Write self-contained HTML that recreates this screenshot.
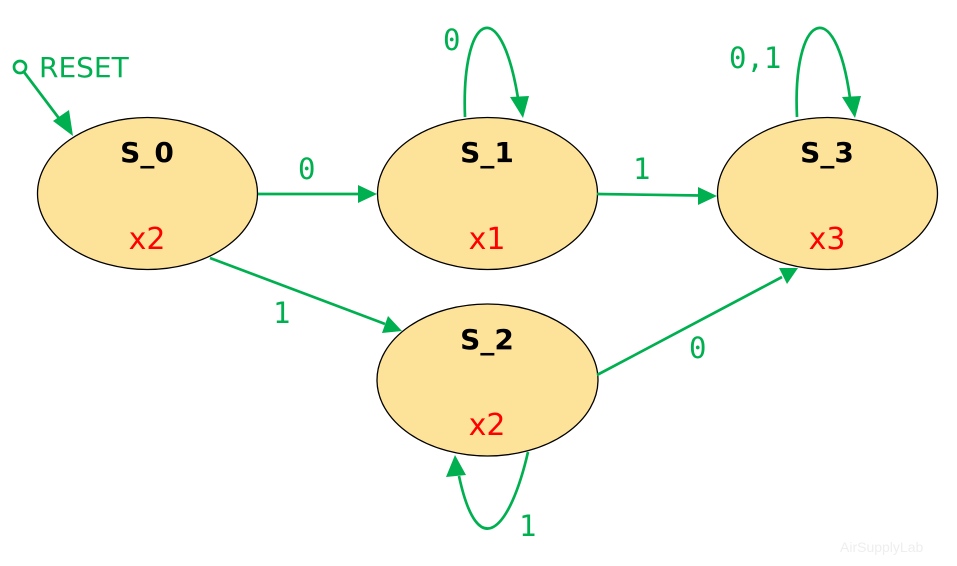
<!DOCTYPE html>
<html><head><style>html,body{margin:0;padding:0;background:#fff;}svg{display:block}</style></head>
<body>
<svg width="957" height="566" viewBox="0 0 957 566" xmlns="http://www.w3.org/2000/svg">
<g fill="#FDE39A" stroke="#000" stroke-width="1.3">
<ellipse cx="147.5" cy="193.5" rx="110" ry="76"/>
<ellipse cx="487.5" cy="193.5" rx="110" ry="76"/>
<ellipse cx="827.5" cy="193.5" rx="110" ry="76"/>
<ellipse cx="487.5" cy="380" rx="110.5" ry="76"/>
</g>
<g font-family="'DejaVu Sans','Liberation Sans',sans-serif" font-weight="bold" font-size="28" text-anchor="middle" fill="#000">
<text x="147" y="162">S_0</text>
<text x="487" y="162">S_1</text>
<text x="827" y="162">S_3</text>
<text x="487" y="349">S_2</text>
</g>
<g font-family="'DejaVu Sans','Liberation Sans',sans-serif" font-size="30" text-anchor="middle" fill="#FF0000">
<text x="147" y="249">x2</text>
<text x="487" y="249">x1</text>
<text x="827" y="249">x3</text>
<text x="487" y="435">x2</text>
</g>
<g stroke="#00B050" stroke-width="2.7" fill="none">
<circle cx="20" cy="67" r="6"/>
<line x1="24" y1="72" x2="64" y2="125"/>
<line x1="258" y1="194" x2="360" y2="194"/>
<line x1="597" y1="194" x2="700" y2="195.5"/>
<line x1="210" y1="258" x2="385" y2="324"/>
<line x1="597" y1="375" x2="782" y2="277"/>
<path d="M465,117 C461,15 500,-10 518,98"/>
<path d="M797,117 C792,15 835,-10 850,98"/>
<path d="M528,452 C510,530 478,565 459,476"/>
</g>
<g fill="#00B050">
<polygon points="73,136 53,121 69,110"/>
<polygon points="377,194 358,185 358,203"/>
<polygon points="717,196 698,187 698,205"/>
<polygon points="402,331 382,333 388,316"/>
<polygon points="798,268 787,284 779,268"/>
<polygon points="523,118 510,97 529,96"/>
<polygon points="855,118 842,97 861,96"/>
<polygon points="455,455 446,477 466,475"/>
</g>
<g font-family="'DejaVu Sans Mono','Liberation Mono',monospace" font-size="29" fill="#00B050">
<text x="298" y="179">0</text>
<text x="633" y="179">1</text>
<text x="273" y="323">1</text>
<text x="689" y="358">0</text>
<text x="443" y="50">0</text>
<text x="729" y="68">0,1</text>
<text x="519" y="536">1</text>
</g>
<text x="39" y="77" font-family="'DejaVu Sans','Liberation Sans',sans-serif" font-size="28" fill="#00B050">RESET</text>
<text x="840" y="552" font-family="'Liberation Sans',sans-serif" font-size="14" fill="#eeeeee">AirSupplyLab</text>
</svg>
</body></html>
